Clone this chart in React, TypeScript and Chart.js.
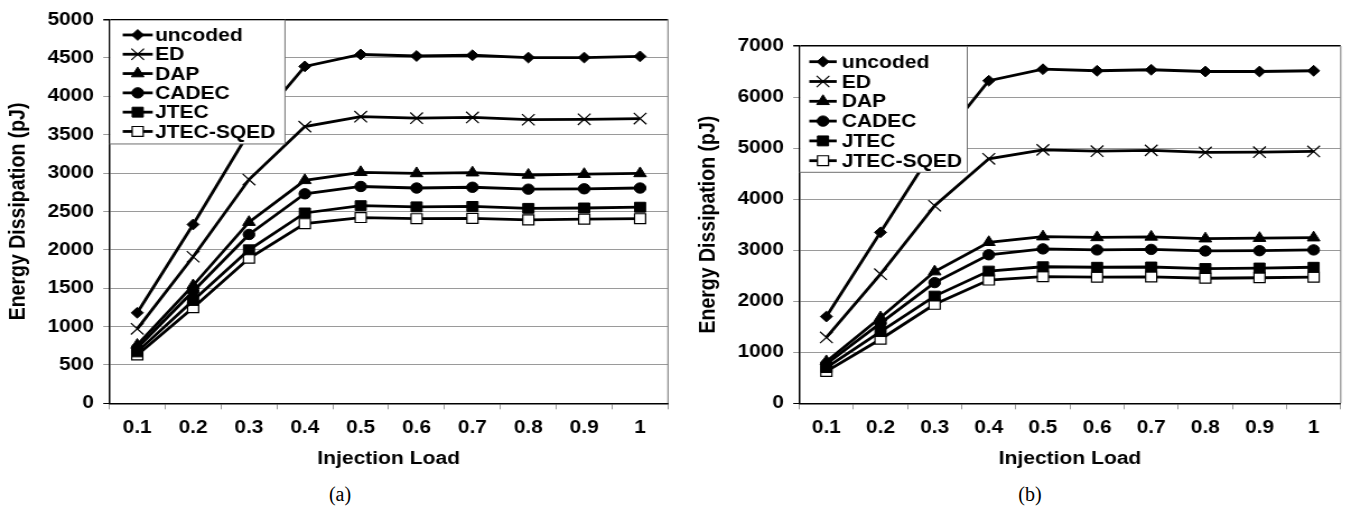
import React, { useEffect, useRef } from 'react';
import { Chart, registerables } from 'chart.js';
import { drawPoint } from 'chart.js/helpers';

Chart.register(...registerables);

// ---------- data ----------
const loads = ['0.1', '0.2', '0.3', '0.4', '0.5', '0.6', '0.7', '0.8', '0.9', '1'];
const seriesNames = ['uncoded', 'ED', 'DAP', 'CADEC', 'JTEC', 'JTEC-SQED'];

// panel (a)
const uncodedA = [1180, 2330, 3530, 4390, 4545, 4525, 4535, 4505, 4505, 4520];
const edA = [970, 1910, 2915, 3605, 3735, 3715, 3725, 3695, 3700, 3710];
const dapA = [760, 1535, 2360, 2905, 3010, 2995, 3005, 2975, 2985, 2995];
const cadecA = [720, 1460, 2200, 2730, 2825, 2805, 2815, 2790, 2795, 2805];
const jtecA = [670, 1340, 2000, 2480, 2575, 2560, 2565, 2540, 2545, 2555];
const sqedA = [630, 1245, 1890, 2340, 2420, 2405, 2410, 2390, 2400, 2405];

// panel (b)
const uncodedB = [1700, 3350, 5000, 6320, 6545, 6515, 6535, 6500, 6500, 6515];
const edB = [1290, 2530, 3870, 4790, 4965, 4940, 4955, 4915, 4920, 4935];
const dapB = [820, 1680, 2580, 3155, 3265, 3250, 3260, 3225, 3235, 3245];
const cadecB = [770, 1570, 2365, 2910, 3025, 3005, 3015, 2985, 2990, 3005];
const jtecB = [700, 1405, 2100, 2590, 2675, 2665, 2670, 2640, 2650, 2665];
const sqedB = [625, 1255, 1940, 2415, 2480, 2470, 2475, 2450, 2460, 2470];

const yMaxA = 5000;
const yStepA = 500;
const yMaxB = 7000;
const yStepB = 1000;

const xTitle = 'Injection Load';
const yTitle = 'Energy Dissipation (pJ)';

// ---------- styles ----------
const FONT = '"Liberation Sans", Arial, Helvetica, sans-serif';
const markerStyles = [
  { pointStyle: 'rectRot', radius: 5.4, fill: '#000', bw: 1 },
  { pointStyle: 'crossRot', radius: 8, fill: '#000', bw: 1.2 },
  { pointStyle: 'triangle', radius: 6.5, fill: '#000', bw: 1 },
  { pointStyle: 'circle', radius: 5.2, fill: '#000', bw: 1 },
  { pointStyle: 'rect', radius: 7, fill: '#000', bw: 1 },
  { pointStyle: 'rect', radius: 7, fill: '#fff', bw: 1.2 },
];

const boxLegend = {
  id: 'boxLegend',
  beforeDatasetsDraw(chart: any) {
    const { ctx, chartArea } = chart;
    ctx.save();
    ctx.strokeStyle = '#8a8a8a';
    ctx.lineWidth = 1.2;
    ctx.beginPath();
    ctx.moveTo(chartArea.right, chartArea.top);
    ctx.lineTo(chartArea.right, chartArea.bottom);
    ctx.stroke();
    ctx.restore();
  },
  afterDatasetsDraw(chart: any, _args: any, opts: any) {
    const { ctx, chartArea } = chart;
    const k = opts.k;
    const x0 = chartArea.left;
    const y0 = chartArea.top;
    const w = opts.width / k;
    const h = opts.height;
    ctx.save();
    ctx.fillStyle = '#fff';
    ctx.fillRect(x0 + 1, y0 + 1, w - 1, h - 1);
    ctx.strokeStyle = '#6e6e6e';
    ctx.lineWidth = 1;
    ctx.beginPath();
    ctx.moveTo(x0 + w, y0);
    ctx.lineTo(x0 + w, y0 + h);
    ctx.lineTo(x0, y0 + h);
    ctx.stroke();
    chart.data.datasets.forEach((ds: any, i: number) => {
      const y = y0 + opts.firstRow + i * opts.rowStep;
      const lx1 = x0 + opts.lineStart / k;
      const lx2 = x0 + opts.lineEnd / k;
      ctx.strokeStyle = '#000';
      ctx.lineWidth = 2.8;
      ctx.beginPath();
      ctx.moveTo(lx1, y);
      ctx.lineTo(lx2, y);
      ctx.stroke();
      ctx.fillStyle = ds.pointBackgroundColor;
      ctx.strokeStyle = '#000';
      ctx.lineWidth = ds.pointBorderWidth;
      drawPoint(
        ctx,
        { pointStyle: ds.pointStyle, radius: ds.pointRadius, rotation: 0, borderWidth: ds.pointBorderWidth },
        (lx1 + lx2) / 2,
        y
      );
      ctx.fillStyle = '#000';
      ctx.font = `bold ${opts.fontSize}px ${FONT}`;
      ctx.textBaseline = 'middle';
      ctx.textAlign = 'left';
      ctx.fillText(ds.label, x0 + opts.textStart / k, y + 1);
    });
    ctx.restore();
  },
};

type PanelProps = {
  series: number[][];
  yMax: number;
  yStep: number;
  cssLeft: number;
  cssW: number;
  cssH: number;
  plotLeft: number;
  plotRight: number;
  plotTop: number;
  plotBottom: number;
  legend: any;
};

const SX = 1.12;

function Panel(p: PanelProps) {
  const ref = useRef<HTMLCanvasElement>(null);
  const innerW = Math.round(p.cssW / SX);
  const k = p.cssW / innerW;

  useEffect(() => {
    if (!ref.current) return;
    const L = p.plotLeft / k;
    const R = p.plotRight / k;
    const gridColor = (c: any) =>
      c.tick && (c.tick.value === p.yMax || c.tick.value === 0) ? '#000' : '#9a9a9a';
    const gridWidth = (c: any) => (c.tick && c.tick.value === p.yMax ? 1.5 : 1);
    const chart = new Chart(ref.current, {
      type: 'line',
      data: {
        labels: loads,
        datasets: p.series.map((d, i) => ({
          label: seriesNames[i],
          data: d,
          borderColor: '#000',
          borderWidth: 2.8,
          pointStyle: markerStyles[i].pointStyle as any,
          pointRadius: markerStyles[i].radius,
          pointBackgroundColor: markerStyles[i].fill,
          pointBorderColor: '#000',
          pointBorderWidth: markerStyles[i].bw,
          tension: 0,
          fill: false,
        })),
      },
      options: {
        responsive: false,
        animation: false,
        devicePixelRatio: 1,
        layout: { padding: { left: 0, top: p.plotTop, right: innerW - R, bottom: 0 } },
        plugins: {
          legend: { display: false },
          tooltip: { enabled: false },
          boxLegend: { ...p.legend, k },
        } as any,
        scales: {
          x: {
            offset: true,
            grid: { offset: true, drawOnChartArea: false, drawTicks: true, tickLength: 6, color: '#9a9a9a' },
            border: { color: '#000', width: 1.5 },
            ticks: { color: '#000', font: { family: FONT, size: 18.6, weight: 'bold' }, padding: 7.5, maxRotation: 0, autoSkip: false },
            title: {
              display: true,
              text: xTitle,
              color: '#000',
              font: { family: FONT, size: 18.8, weight: 'bold' },
              padding: { top: 0, bottom: 0 },
            },
            afterFit: (s: any) => {
              s.height = p.cssH - p.plotBottom;
            },
          },
          y: {
            min: 0,
            max: p.yMax,
            ticks: {
              stepSize: p.yStep,
              color: '#000',
              font: { family: FONT, size: 18.6, weight: 'bold' },
              padding: 8.4,
              callback: (v: any) => String(v),
            },
            grid: { color: gridColor as any, lineWidth: gridWidth as any, tickLength: 5.4 },
            border: { color: '#000', width: 1.5 },
            title: {
              display: true,
              text: yTitle,
              color: '#000',
              font: { family: FONT, size: 19.5, weight: 'bold' },
              padding: { top: 5, bottom: 0 },
            },
            afterFit: (s: any) => {
              s.width = L;
            },
          },
        },
      },
      plugins: [boxLegend as any],
    });
    return () => chart.destroy();
  }, []);

  return (
    <canvas
      ref={ref}
      width={innerW}
      height={p.cssH}
      style={{ position: 'absolute', left: p.cssLeft, top: 0, width: p.cssW, height: p.cssH }}
    />
  );
}

const captionStyle: React.CSSProperties = {
  position: 'absolute',
  top: 482,
  width: 100,
  textAlign: 'center',
  fontFamily: '"Liberation Serif", "Times New Roman", serif',
  fontSize: 20,
  lineHeight: '24px',
  color: '#000',
};

export default function App() {
  return (
    <div style={{ position: 'absolute', left: 0, top: 0, width: 1351, height: 508, background: '#fff', overflow: 'hidden' }}>
      <Panel
        series={[uncodedA, edA, dapA, cadecA, jtecA, sqedA]}
        yMax={yMaxA}
        yStep={yStepA}
        cssLeft={0}
        cssW={690}
        cssH={470}
        plotLeft={109.3}
        plotRight={668}
        plotTop={17.3}
        plotBottom={403.3}
        legend={{ width: 175.7, height: 124.4, firstRow: 15.4, rowStep: 19.3, lineStart: 13.4, lineEnd: 43.4, textStart: 45.7, fontSize: 18.8 }}
      />
      <Panel
        series={[uncodedB, edB, dapB, cadecB, jtecB, sqedB]}
        yMax={yMaxB}
        yStep={yStepB}
        cssLeft={690}
        cssW={661}
        cssH={470}
        plotLeft={109.3}
        plotRight={656.7}
        plotTop={46}
        plotBottom={403.3}
        legend={{ width: 168, height: 126.3, firstRow: 15.7, rowStep: 19.8, lineStart: 10, lineEnd: 37.4, textStart: 42.4, fontSize: 18.8 }}
      />
      <div style={{ ...captionStyle, left: 290 }}>(a)</div>
      <div style={{ ...captionStyle, left: 980 }}>(b)</div>
    </div>
  );
}
